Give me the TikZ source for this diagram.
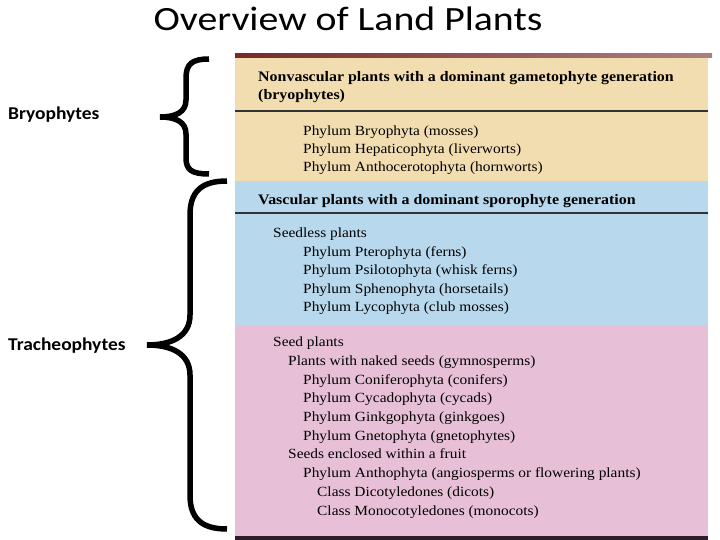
\documentclass[tikz,border=0pt]{standalone}
\usepackage{fontspec}
\setmainfont{Liberation Serif}
\setsansfont{Carlito}
\newfontfamily\titlefont[FakeStretch=1.17]{Carlito}
\newfontfamily\labelfont[FakeStretch=1.08]{Carlito}
\newfontfamily\tablefont[FakeStretch=1.1]{Liberation Serif}
\usetikzlibrary{positioning, calc}

\definecolor{tanband}{RGB}{242,221,176}
\definecolor{blueband}{RGB}{184,217,237}
\definecolor{pinkband}{RGB}{231,192,216}
\definecolor{topbar}{RGB}{118,42,42}
\definecolor{botbar}{RGB}{45,30,40}

\begin{document}
\begin{tikzpicture}[
    x=1pt, y=-1pt,
    title/.style={font=\titlefont\fontsize{34}{38}\selectfont, anchor=base, inner sep=0pt},
    group/.style={font=\labelfont\bfseries\fontsize{18}{20}\selectfont, anchor=base west, inner sep=0pt},
    rule/.style={line width=1.3pt, black!80},
    head/.style={font=\tablefont\bfseries\fontsize{14.5}{17}\selectfont, anchor=base west, inner sep=0pt},
    item/.style={font=\tablefont\fontsize{14}{16}\selectfont, anchor=base west, inner sep=0pt},
    brace/.style={line width=5.5pt},
]
\useasboundingbox (0,0) rectangle (720,540);

% === TITLE ===
\node[title] (title) at (348,30.5) {Overview of Land Plants};

% === BANDS ===
\fill[tanband] (235,57) rectangle (708,181);
\fill[blueband] (235,181) rectangle (708,325);
\fill[pinkband] (235,325) rectangle (708,536);
\shade[left color=topbar, right color=topbar!60!white] (235,54) rectangle (712,58);
\fill[botbar] (235,536) rectangle (708,540);
\draw[rule] (235,111) -- (708,111);
\draw[rule] (235,213) -- (708,213);

% === NONVASCULAR ===
\node[head] (nonvasc) at (258,81.7) {Nonvascular plants with a dominant gametophyte generation};
\node[head] (nonvasc2) at (258,99.3) {(bryophytes)};
\node[item] (bryo1) at (303,135.3) {Phylum Bryophyta (mosses)};
\node[item] (bryo2) at (303,153.3) {Phylum Hepaticophyta (liverworts)};
\node[item] (bryo3) at (303,171.5) {Phylum Anthocerotophyta (hornworts)};

% === VASCULAR ===
\node[head] (vasc) at (258,205) {Vascular plants with a dominant sporophyte generation};
\node[item] (seedless) at (273,237.7) {Seedless plants};
\node[item] (sl1) at (303,256) {Phylum Pterophyta (ferns)};
\node[item] (sl2) at (303,274.6) {Phylum Psilotophyta (whisk ferns)};
\node[item] (sl3) at (303,293.2) {Phylum Sphenophyta (horsetails)};
\node[item] (sl4) at (303,311.8) {Phylum Lycophyta (club mosses)};

% === SEED PLANTS ===
\node[item] (seed) at (273,346.7) {Seed plants};
\node[item] (gymno) at (288,365.4) {Plants with naked seeds (gymnosperms)};
\node[item] (gy1) at (303,384.1) {Phylum Coniferophyta (conifers)};
\node[item] (gy2) at (303,402.8) {Phylum Cycadophyta (cycads)};
\node[item] (gy3) at (303,421.5) {Phylum Ginkgophyta (ginkgoes)};
\node[item] (gy4) at (303,440.2) {Phylum Gnetophyta (gnetophytes)};
\node[item] (fruit) at (288,458.9) {Seeds enclosed within a fruit};
\node[item] (antho) at (303,477.6) {Phylum Anthophyta (angiosperms or flowering plants)};
\node[item] (dicot) at (317,496.3) {Class Dicotyledones (dicots)};
\node[item] (monocot) at (317,515) {Class Monocotyledones (monocots)};

% === BRACES ===
\draw[brace] (209,59) .. controls (192,59) and (186,64) .. (186,78) -- (186,100)
    .. controls (186,112) and (176,117) .. (160,117)
    .. controls (176,117) and (186,122) .. (186,134) -- (186,158)
    .. controls (186,170) and (192,174) .. (209,174);
\draw[brace] (227,181) .. controls (201,181) and (190,192) .. (190,215) -- (190,315)
    .. controls (190,336) and (172,345) .. (147,345)
    .. controls (172,345) and (190,354) .. (190,375) -- (190,495)
    .. controls (190,518) and (201,529) .. (227,529);

% === GROUP LABELS ===
\node[group] (bryophytes) at (8,119.3) {Bryophytes};
\node[group] (tracheo) at (8,350) {Tracheophytes};

\end{tikzpicture}
\end{document}
